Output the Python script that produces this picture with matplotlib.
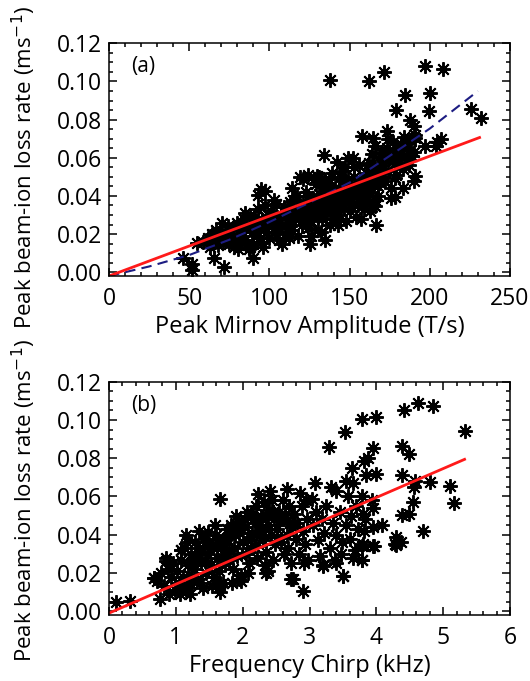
import numpy as np
import matplotlib.pyplot as plt
from matplotlib.ticker import MultipleLocator

plt.rcParams['font.family'] = ['Open Sans', 'DejaVu Sans']

# ---- panel (a): peak Mirnov amplitude (T/s) vs peak loss rate (ms^-1)
amp_out = [138, 162, 171.5, 197, 208, 184.6, 200, 179, 199.4, 225.8, 231.7, 187.7, 190,
           173, 158, 164.5, 191, 197, 204.7, 206.8, 204, 183.5, 180, 188.8, 190, 191,
           178, 183.5, 178, 165.6, 166.6, 133.9, 121, 129.6, 94.8, 97, 93, 70.5, 54.6,
           58.8, 46.2, 51.5, 51.5, 65.2, 71.5, 89.5, 80.5, 88, 134.9, 125.5]
loss_out = [0.1009, 0.100, 0.1047, 0.108, 0.1065, 0.0928, 0.0937, 0.085, 0.0843, 0.0855,
            0.0808, 0.0797, 0.0768, 0.0741, 0.0715, 0.0706, 0.0706, 0.0662, 0.068, 0.0697,
            0.066, 0.0654, 0.062, 0.061, 0.048, 0.0505, 0.0496, 0.0444, 0.0392, 0.0348,
            0.0248, 0.0615, 0.049, 0.0506, 0.0436, 0.0428, 0.0405, 0.0256, 0.0153, 0.016,
            0.0072, 0.0042, 0.0011, 0.0072, 0.0028, 0.0074, 0.012, 0.0133, 0.0168, 0.0147]

amp_core = [62, 64, 66, 67, 69, 68, 63,
            72, 73, 74, 75, 76, 77, 78, 79, 80, 71,
            81, 82, 83, 84, 85, 86, 87, 88, 89, 90, 85, 89,
            91, 92, 93, 94, 95, 96, 97, 98, 99, 100, 92, 96, 99,
            101, 102, 103, 104, 105, 106, 107, 108, 109, 110, 103, 106, 108, 102,
            111, 112, 113, 114, 115, 116, 117, 118, 119, 120, 112, 115, 118, 114, 120,
            121, 122, 123, 124, 125, 126, 127, 128, 129, 130, 122, 124, 126, 128, 130, 123,
            131, 132, 133, 134, 135, 136, 137, 138, 139, 140, 132, 134, 136, 138, 140, 133, 137, 139,
            141, 142, 143, 144, 145, 146, 147, 148, 149, 150, 142, 144, 146, 148, 150, 143, 145, 147, 149,
            151, 152, 153, 154, 155, 156, 157, 158, 159, 160, 152, 154, 156, 158, 160, 153, 157,
            161, 162, 163, 164, 165, 166, 167, 168, 169, 170, 162, 164, 166, 168, 170, 163,
            171, 172, 173, 174, 175, 176, 177, 178, 179, 180, 174, 176,
            181, 182, 183, 184, 185, 186, 187, 188, 190, 191,
            119, 124, 128, 131,
            105, 110, 117, 125, 129, 135, 141, 146, 151, 155, 159, 163, 167, 172, 177,
            98, 113, 121, 127, 133, 139, 144, 149, 155, 161, 165, 169]
loss_core = [0.018, 0.020, 0.016, 0.022, 0.019, 0.014, 0.013,
             0.021, 0.017, 0.024, 0.015, 0.020, 0.023, 0.013, 0.018, 0.026, 0.016,
             0.014, 0.022, 0.019, 0.028, 0.017, 0.024, 0.012, 0.030, 0.021, 0.015, 0.031, 0.026,
             0.029, 0.019, 0.033, 0.023, 0.016, 0.027, 0.035, 0.021, 0.030, 0.018, 0.025, 0.013, 0.024,
             0.032, 0.026, 0.021, 0.036, 0.028, 0.017, 0.030, 0.024, 0.034, 0.020, 0.038, 0.023, 0.015, 0.029,
             0.031, 0.026, 0.037, 0.022, 0.033, 0.028, 0.040, 0.019, 0.035, 0.025, 0.018, 0.038, 0.030, 0.044, 0.032,
             0.036, 0.029, 0.042, 0.023, 0.034, 0.027, 0.039, 0.031, 0.046, 0.022, 0.033, 0.040, 0.019, 0.037, 0.030, 0.026,
             0.041, 0.034, 0.028, 0.045, 0.037, 0.031, 0.049, 0.025, 0.040, 0.035, 0.021, 0.038, 0.043, 0.032, 0.028, 0.047, 0.036, 0.052,
             0.044, 0.038, 0.030, 0.050, 0.041, 0.034, 0.055, 0.027, 0.046, 0.039, 0.058, 0.035, 0.048, 0.042, 0.032, 0.025, 0.053, 0.037, 0.060,
             0.045, 0.036, 0.050, 0.029, 0.043, 0.056, 0.039, 0.048, 0.033, 0.052, 0.060, 0.041, 0.046, 0.037, 0.044, 0.055, 0.028,
             0.049, 0.057, 0.042, 0.062, 0.047, 0.038, 0.054, 0.045, 0.059, 0.050, 0.037, 0.052, 0.066, 0.040, 0.063, 0.032,
             0.056, 0.048, 0.065, 0.053, 0.060, 0.044, 0.068, 0.057, 0.051, 0.064, 0.070, 0.039,
             0.058, 0.067, 0.054, 0.071, 0.061, 0.065, 0.056, 0.069, 0.063, 0.072,
             0.050, 0.051, 0.049, 0.050,
             0.025, 0.029, 0.033, 0.030, 0.035, 0.040, 0.036, 0.044, 0.041, 0.047, 0.042, 0.051, 0.049, 0.059, 0.062,
             0.028, 0.024, 0.028, 0.035, 0.031, 0.043, 0.033, 0.049, 0.035, 0.044, 0.055, 0.047]

# fits
fit_a_x = [0, 231]
fit_a_y = [-0.002, 0.0706]
fit2_a_x = [0, 25, 50, 75, 100, 125, 150, 175, 200, 230]
fit2_a_y = [-0.002, 0.003, 0.009, 0.017, 0.0263, 0.0365, 0.047, 0.061, 0.0753, 0.095]

# ---- panel (b): frequency chirp (kHz) vs peak loss rate
chirp_out = [4.63, 4.41, 4.85, 3.79, 3.99, 3.53, 5.32, 3.29, 3.95, 4.38, 4.49, 3.88, 3.81,
             3.64, 3.08, 3.32, 3.40, 3.55, 3.65, 3.99, 3.85, 4.38, 4.58, 4.80, 5.10, 5.16,
             4.56, 4.55, 4.38, 4.49, 4.70, 4.30, 4.37, 4.28, 3.95, 3.78, 3.78, 4.09, 3.95,
             3.81, 3.83, 3.95, 3.80, 3.93, 3.78, 3.03, 2.66, 2.41, 2.23, 1.66, 1.15, 1.48,
             1.08, 0.68, 2.90, 3.50, 3.20, 2.72, 2.35, 1.95, 1.66,
             0.10, 0.31, 0.76, 0.68, 0.86, 1.08, 1.15, 1.21, 1.66, 1.98, 2.38, 2.75, 2.92,
             3.20, 3.50, 3.78, 3.96, 3.80, 4.30, 3.47, 3.40]
loss_b_out = [0.1089, 0.1052, 0.1072, 0.1005, 0.1017, 0.0935, 0.0943, 0.0857, 0.0854, 0.0862,
              0.082, 0.0803, 0.0785, 0.0751, 0.067, 0.0648, 0.063, 0.0682, 0.067, 0.0717,
              0.071, 0.0711, 0.0682, 0.0674, 0.0656, 0.0565, 0.065, 0.057, 0.0502, 0.051,
              0.0419, 0.039, 0.036, 0.035, 0.0339, 0.034, 0.027, 0.045, 0.044, 0.042, 0.048,
              0.054, 0.051, 0.058, 0.060, 0.0588, 0.064, 0.063, 0.0613, 0.0588, 0.0398, 0.0412,
              0.0321, 0.0172, 0.0107, 0.0184, 0.024, 0.017, 0.020, 0.017, 0.014,
              0.0046, 0.0055, 0.0063, 0.0175, 0.026, 0.032, 0.011, 0.0089, 0.0132, 0.0158,
              0.021, 0.0167, 0.025, 0.0236, 0.0184, 0.027, 0.034, 0.035, 0.0347, 0.030, 0.025]

chirp_core = [0.72, 0.78, 0.83, 0.88, 0.92, 0.95, 0.98, 0.85, 0.90,
              1.02, 1.05, 1.08, 1.10, 1.12, 1.15, 1.18, 1.20, 1.23, 1.06, 1.16, 1.22,
              1.27, 1.30, 1.32, 1.35, 1.38, 1.40, 1.42, 1.45, 1.48, 1.28, 1.36, 1.44, 1.34,
              1.52, 1.55, 1.57, 1.60, 1.62, 1.65, 1.68, 1.70, 1.72, 1.58, 1.66, 1.74, 1.54,
              1.77, 1.80, 1.82, 1.85, 1.87, 1.90, 1.92, 1.95, 1.97, 2.00, 1.84, 1.93, 1.79,
              2.02, 2.05, 2.07, 2.10, 2.12, 2.15, 2.17, 2.20, 2.22, 2.24, 2.08, 2.18, 2.13,
              2.27, 2.30, 2.32, 2.35, 2.38, 2.40, 2.42, 2.45, 2.47, 2.49, 2.33, 2.44,
              2.52, 2.55, 2.57, 2.60, 2.62, 2.65, 2.67, 2.70, 2.72, 2.74, 2.58, 2.68,
              2.77, 2.80, 2.82, 2.85, 2.88, 2.90, 2.93, 2.96, 2.98, 2.86, 2.95,
              3.05, 3.10, 3.12, 3.18, 3.22, 3.25, 3.30, 3.35, 3.40, 3.45, 3.15, 3.38, 3.48,
              3.55, 3.60, 3.62, 3.68, 3.70, 3.58, 3.72, 3.65,
              1.25, 1.39, 1.50, 1.61, 1.73, 1.81, 1.89, 1.99, 2.06, 2.14, 2.21, 2.29, 2.37,
              2.46, 2.54, 2.63, 2.71, 1.46, 1.63, 1.76, 1.88, 2.03, 2.16, 2.26, 2.39, 2.51]
loss_b_core = [0.016, 0.020, 0.013, 0.022, 0.018, 0.025, 0.011, 0.028, 0.009,
               0.021, 0.015, 0.027, 0.018, 0.033, 0.012, 0.024, 0.019, 0.030, 0.009, 0.036, 0.014,
               0.022, 0.028, 0.017, 0.033, 0.025, 0.012, 0.038, 0.020, 0.030, 0.036, 0.015, 0.026, 0.042,
               0.024, 0.034, 0.018, 0.040, 0.028, 0.021, 0.035, 0.015, 0.030, 0.045, 0.010, 0.025, 0.013,
               0.038, 0.027, 0.045, 0.022, 0.033, 0.050, 0.029, 0.041, 0.019, 0.036, 0.015, 0.047, 0.032,
               0.044, 0.030, 0.052, 0.025, 0.039, 0.048, 0.034, 0.055, 0.028, 0.042, 0.020, 0.046, 0.033,
               0.050, 0.037, 0.057, 0.031, 0.045, 0.053, 0.040, 0.027, 0.048, 0.035, 0.024, 0.058,
               0.043, 0.052, 0.036, 0.058, 0.030, 0.047, 0.040, 0.055, 0.025, 0.044, 0.049, 0.033,
               0.051, 0.038, 0.046, 0.030, 0.055, 0.042, 0.035, 0.048, 0.027, 0.062, 0.058,
               0.045, 0.052, 0.037, 0.048, 0.041, 0.055, 0.033, 0.046, 0.040, 0.052, 0.029, 0.027, 0.036,
               0.045, 0.038, 0.050, 0.032, 0.055, 0.060, 0.043, 0.028,
               0.027, 0.031, 0.035, 0.033, 0.037, 0.040, 0.043, 0.045, 0.037, 0.041, 0.047, 0.044, 0.050,
               0.052, 0.047, 0.051, 0.046, 0.034, 0.038, 0.043, 0.040, 0.048, 0.051, 0.040, 0.043, 0.039]

fit_b_x = [0, 5.32]
fit_b_y = [-0.001, 0.0794]

star = dict(linestyle='none', marker=(8, 2, 0), markersize=10.5, markeredgewidth=1.4,
            color='black', markeredgecolor='black')
FS = 16.5


def style_axes(ax, xmax, xmajor, xminor, label_y):
    ax.set_xlim(0, xmax)
    ax.set_ylim(-0.002, 0.12)
    ax.xaxis.set_major_locator(MultipleLocator(xmajor))
    ax.xaxis.set_minor_locator(MultipleLocator(xminor))
    ax.yaxis.set_minor_locator(MultipleLocator(0.005))
    ax.set_yticks(np.arange(0, 0.121, 0.02))
    ax.set_yticklabels(['%.2f' % v for v in np.arange(0, 0.121, 0.02)])
    ax.tick_params(which='both', direction='in', top=True, right=True, labelsize=FS, width=1.1)
    ax.tick_params(which='major', length=6)
    ax.tick_params(which='minor', length=3)
    ax.tick_params(axis='x', pad=8)
    ax.tick_params(axis='y', pad=5)
    for s in ax.spines.values():
        s.set_linewidth(1.1)
    ax.set_ylabel('Peak beam-ion loss rate (ms$^{-1}$)', fontsize=16)
    ax.yaxis.set_label_coords(-0.178, label_y)


fig = plt.figure(figsize=(5.3, 6.81), dpi=100)
ax1 = fig.add_axes([0.2057, 0.5947, 0.7566, 0.3417])
ax2 = fig.add_axes([0.2057, 0.0969, 0.7566, 0.3426])

ax1.plot(amp_core, loss_core, **star)
ax1.plot(amp_out, loss_out, **star)
ax1.plot(fit2_a_x, fit2_a_y, '--', color='#1c1c82', lw=1.5, dashes=(5, 3))
ax1.plot(fit_a_x, fit_a_y, '-', color='#ff1a1a', lw=2.0)
style_axes(ax1, 250, 50, 10, 0.465)
ax1.set_xlabel('Peak Mirnov Amplitude (T/s)', fontsize=17, labelpad=3)
ax1.text(0.055, 0.9, '(a)', transform=ax1.transAxes, fontsize=15, va='center')

ax2.plot(chirp_core, loss_b_core, **star)
ax2.plot(chirp_out, loss_b_out, **star)
ax2.plot(fit_b_x, fit_b_y, '-', color='#ff1a1a', lw=2.0)
style_axes(ax2, 6, 1, 0.2, 0.49)
ax2.set_xlabel('Frequency Chirp (kHz)', fontsize=17, labelpad=3)
ax2.text(0.055, 0.9, '(b)', transform=ax2.transAxes, fontsize=15, va='center')

fig.savefig('out.png', dpi=100)
